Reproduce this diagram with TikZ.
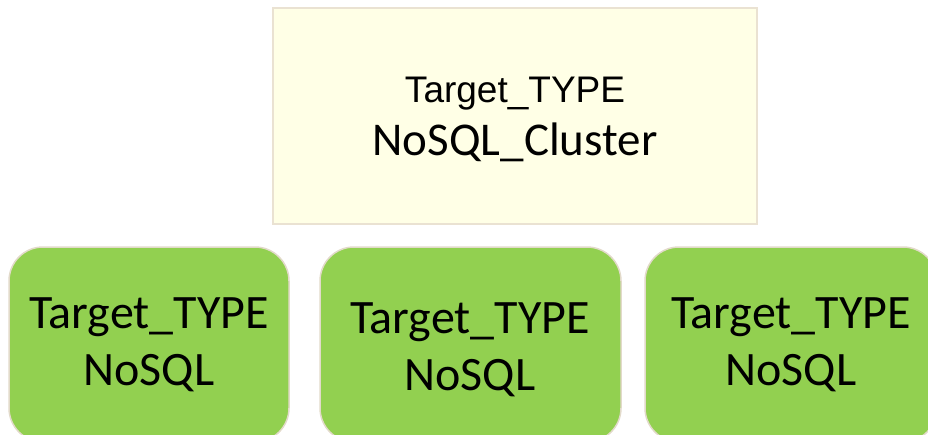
\documentclass[tikz,border=0pt]{standalone}
\usepackage{fontspec}
\setmainfont{Carlito}
\newfontfamily\arialf{Liberation Sans}
\definecolor{topfill}{HTML}{FFFFE6}
\definecolor{topline}{HTML}{EAE2D2}
\definecolor{grn}{HTML}{92D050}
\definecolor{grnline}{HTML}{E2DACA}
\begin{document}
\begin{tikzpicture}[x=1pt,y=-1pt,
  topbox/.style={draw=topline,fill=topfill,line width=1.5pt},
  grnbox/.style={draw=grnline,fill=grn,line width=1.5pt,rounded corners=34pt},
  bigtxt/.style={font=\fontsize{48}{56}\selectfont,anchor=base,inner sep=0pt}]
\useasboundingbox (0,0) rectangle (928,434);
\draw[topbox] (273,8) rectangle (757,224);
\node[font=\arialf\fontsize{37}{42}\selectfont,anchor=base,inner sep=0pt] (t1) at (515,102) {Target\_TYPE};
\node[font=\fontsize{47}{50}\selectfont,anchor=base,inner sep=0pt] (t2) at (515,155) {NoSQL\_Cluster};
\draw[grnbox] (9,247) rectangle (289,442);
\draw[grnbox] (320,247) rectangle (621,442);
\draw[grnbox] (645,247) rectangle (937,442);
\node[bigtxt] (a1) at (149,328) {Target\_TYPE};
\node[bigtxt] (a2) at (149,385) {NoSQL};
\node[bigtxt] (b1) at (470,333) {Target\_TYPE};
\node[bigtxt] (b2) at (470,390) {NoSQL};
\node[bigtxt] (c1) at (791,328) {Target\_TYPE};
\node[bigtxt] (c2) at (791,385) {NoSQL};
\end{tikzpicture}
\end{document}
